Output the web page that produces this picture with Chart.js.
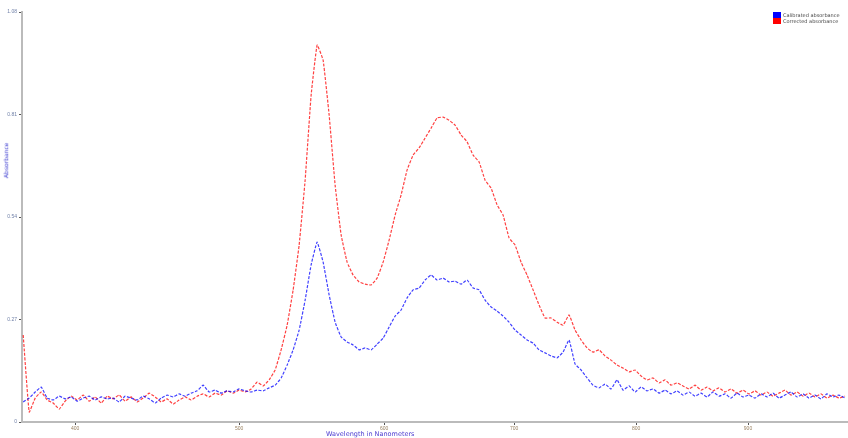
<!DOCTYPE html>
<html>
<head>
<meta charset="utf-8">
<script src="https://cdn.jsdelivr.net/npm/chart.js@4.4.1/dist/chart.umd.min.js"></script>
<style>
body{margin:0;background:#fff;font-family:"DejaVu Sans",sans-serif}
#wrap{position:relative;width:848px;height:438px;overflow:hidden}
.leg{position:absolute;left:773px;font-size:5px;color:#444;line-height:6px;white-space:nowrap}
.leg i{display:inline-block;width:8px;height:6px;vertical-align:top;margin-right:2px}
#ytitle{position:absolute;left:-12px;top:157px;font-size:6px;color:#3a3ad0;transform:rotate(-90deg);white-space:nowrap}
#xtitle{position:absolute;left:326px;top:430px;font-size:6.5px;color:#4a3ad0;white-space:nowrap}
</style>
</head>
<body>
<div id="wrap">
  <canvas id="c" width="848" height="438"></canvas>
  <div class="leg" style="top:12px"><i style="background:#0000ff"></i>Calibrated absorbance</div>
  <div class="leg" style="top:18px"><i style="background:#ff0000"></i>Corrected absorbance</div>
  <div id="ytitle">Absorbance</div>
  <div id="xtitle">Wavelength in Nanometers</div>
</div>
<script>
// spectrometer channels, one value per channel
const calibrated = [
0.053,0.063,0.079,0.092,0.063,0.058,0.068,0.061,0.066,0.055,
0.063,0.068,0.058,0.066,0.061,0.063,0.053,0.068,0.063,0.058,
0.068,0.061,0.050,0.063,0.071,0.066,0.074,0.068,0.076,0.082,
0.097,0.079,0.084,0.076,0.082,0.079,0.087,0.082,0.079,0.084,
0.082,0.090,0.097,0.116,0.150,0.190,0.242,0.321,0.414,0.474,
0.421,0.335,0.263,0.224,0.211,0.203,0.190,0.195,0.190,0.205,
0.221,0.250,0.279,0.295,0.327,0.348,0.353,0.374,0.387,0.374,
0.379,0.369,0.371,0.363,0.374,0.353,0.348,0.321,0.303,0.292,
0.279,0.263,0.242,0.229,0.216,0.208,0.190,0.182,0.174,0.169,
0.184,0.216,0.153,0.137,0.116,0.097,0.090,0.100,0.087,0.111,
0.084,0.095,0.079,0.092,0.082,0.087,0.076,0.084,0.074,0.082,
0.071,0.079,0.068,0.076,0.066,0.079,0.068,0.074,0.063,0.076,
0.066,0.071,0.063,0.074,0.066,0.076,0.063,0.071,0.079,0.066,
0.074,0.063,0.071,0.061,0.074,0.066,0.071,0.063];

const corrected = [
0.229,0.026,0.063,0.079,0.058,0.050,0.034,0.055,0.068,0.058,
0.071,0.055,0.066,0.050,0.068,0.061,0.071,0.055,0.066,0.053,
0.063,0.076,0.066,0.053,0.061,0.047,0.058,0.066,0.058,0.068,
0.074,0.066,0.076,0.071,0.082,0.076,0.084,0.079,0.087,0.105,
0.095,0.111,0.137,0.190,0.255,0.348,0.466,0.637,0.861,0.993,
0.953,0.809,0.624,0.493,0.421,0.387,0.369,0.363,0.361,0.379,
0.421,0.479,0.545,0.598,0.664,0.703,0.722,0.748,0.774,0.801,
0.803,0.795,0.782,0.756,0.738,0.703,0.685,0.637,0.616,0.572,
0.545,0.485,0.466,0.421,0.387,0.348,0.308,0.274,0.274,0.263,
0.255,0.282,0.242,0.216,0.195,0.184,0.190,0.174,0.163,0.150,
0.142,0.132,0.137,0.121,0.111,0.116,0.103,0.111,0.097,0.103,
0.095,0.087,0.097,0.084,0.092,0.082,0.090,0.079,0.087,0.076,
0.084,0.074,0.082,0.071,0.079,0.068,0.076,0.084,0.071,0.079,
0.068,0.076,0.066,0.074,0.063,0.071,0.063,0.068];

// wavelength labels and the channel where each falls
const xTickChannels = [8.67, 36, 60.17, 81.83, 102.17, 120.83];
const xTickLabels = ['400', '500', '600', '700', '800', '900'];
const yTicks = [0, 0.27, 0.54, 0.81, 1.08];

function toPoints(arr){
    return arr.map((v,i)=>({x:i, y:v}));
}

new Chart(document.getElementById('c'), {
    type:'line',
    data:{
        datasets:[{
            label:'Calibrated absorbance',
            data:toPoints(calibrated),
            borderColor:'rgba(0,0,255,0.75)',
            borderWidth:1.2,
            borderDash:[3,1.5],
            pointRadius:0,
            tension:0.1
        },{
            label:'Corrected absorbance',
            data:toPoints(corrected),
            borderColor:'rgba(255,0,0,0.75)',
            borderWidth:1.2,
            borderDash:[3,1.5],
            pointRadius:0,
            tension:0.1
        }]
    },
    options:{
        responsive:false,
        animation:false,
        layout:{padding:{top:12,right:0,left:0,bottom:0}},
        plugins:{legend:{display:false}, tooltip:{enabled:false}},
        scales:{
            x:{
                type:'linear',
                min:-0.2,
                max:137.5,
                afterBuildTicks:s=>{ s.ticks = xTickChannels.map(v=>({value:v})); },
                afterFit:s=>{ s.height = 16; },
                ticks:{
                    autoSkip:false,
                    maxRotation:0,
                    padding:1,
                    color:'#998060',
                    font:{size:5},
                    callback:(v,i)=>xTickLabels[i]
                },
                grid:{drawOnChartArea:false, drawTicks:true, tickLength:3, color:'#555'},
                border:{color:'#bbb', width:2}
            },
            y:{
                min:0,
                max:1.08,
                afterBuildTicks:s=>{ s.ticks = yTicks.map(v=>({value:v})); },
                afterFit:s=>{ s.width = 22; },
                ticks:{
                    padding:2,
                    color:'#7080a8',
                    font:{size:5},
                    callback:v=>v===0?'0':v.toFixed(2)
                },
                grid:{drawOnChartArea:false, drawTicks:true, tickLength:3, color:'#555'},
                border:{color:'#bbb', width:2}
            }
        }
    }
});
</script>
</body>
</html>
